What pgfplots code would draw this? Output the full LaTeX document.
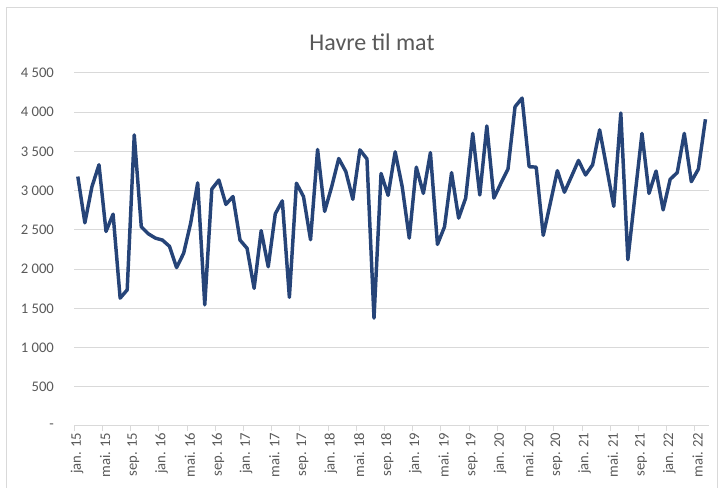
\documentclass[border=0pt]{standalone}
\usepackage{pgfplots}
\pgfplotsset{compat=1.18}
\usepackage{fontspec}
\setmainfont{Carlito}
\definecolor{linec}{RGB}{38,68,120}
\definecolor{txt}{RGB}{89,89,89}
\definecolor{gridc}{RGB}{217,217,217}
\begin{document}
\begin{tikzpicture}[x=0.75pt,y=0.75pt]
\path[use as bounding box] (0,0) rectangle (722,488);
\draw[gridc, line width=0.75pt] (6,-5) rectangle (717.5,480);
\node[text=txt, font=\fontsize{18}{20}\selectfont] at (372,446) {Havre til mat};
\begin{axis}[
  at={(74.3pt*0.75,62pt*0.75)}, anchor=south west,
  scale only axis, width=476pt, height=264.75pt,
  xmin=-0.5, xmax=89.5, ymin=0, ymax=4500,
  axis x line*=bottom, axis y line*=left,
  x axis line style={draw=gridc, line width=0.75pt},
  y axis line style={draw=none},
  xtick={-0.5,3.5,...,87.5},
  xticklabels={jan. 15,mai. 15,sep. 15,jan. 16,mai. 16,sep. 16,jan. 17,mai. 17,sep. 17,jan. 18,mai. 18,sep. 18,jan. 19,mai. 19,sep. 19,jan. 20,mai. 20,sep. 20,jan. 21,mai. 21,sep. 21,jan. 22,mai. 22},
  ytick={0,500,...,4500},
  yticklabels={-,500,1 000,1 500,2 000,2 500,3 000,3 500,4 000,4 500},
  ymajorgrids, grid style={gridc, line width=0.75pt},
  xtick style={draw=gridc, line width=0.75pt},
  ytick style={draw=none},
  tick align=outside, major tick length=3.75pt,
  xticklabel style={rotate=90, anchor=east, text=txt, font=\fontsize{11}{12}\selectfont, inner sep=1pt, yshift=-2pt},
  yticklabel style={anchor=east, text=txt, font=\fontsize{11}{12}\selectfont, xshift=-8pt},
  /pgf/number format/assume math mode=true,
  clip=false,
]
\addplot[linec, line width=2.6pt, line join=round, mark=none] coordinates {
(0,3180)(1,2590)(2,3050)(3,3330)(4,2480)(5,2700)(6,1630)(7,1735)(8,3710)(9,2540)
(10,2450)(11,2395)(12,2370)(13,2290)(14,2020)(15,2200)(16,2585)(17,3100)(18,1545)(19,3020)
(20,3135)(21,2825)(22,2925)(23,2370)(24,2265)(25,1755)(26,2490)(27,2030)(28,2705)(29,2870)
(30,1640)(31,3095)(32,2925)(33,2375)(34,3525)(35,2735)(36,3050)(37,3410)(38,3245)(39,2890)
(40,3520)(41,3405)(42,1375)(43,3220)(44,2940)(45,3495)(46,3050)(47,2395)(48,3300)(49,2965)
(50,3485)(51,2315)(52,2540)(53,3230)(54,2650)(55,2905)(56,3730)(57,2945)(58,3825)(59,2905)
(60,3095)(61,3275)(62,4070)(63,4180)(64,3305)(65,3300)(66,2430)(67,2840)(68,3255)(69,2980)
(70,3180)(71,3385)(72,3200)(73,3330)(74,3775)(75,3290)(76,2800)(77,3990)(78,2120)(79,2930)
(80,3730)(81,2965)(82,3250)(83,2755)(84,3145)(85,3230)(86,3730)(87,3115)(88,3275)(89,3910)
};
\end{axis}
\end{tikzpicture}
\end{document}
